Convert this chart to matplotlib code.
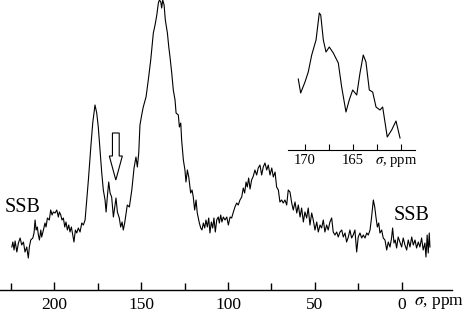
import matplotlib
matplotlib.use("Agg")
import matplotlib.pyplot as plt
from matplotlib.ticker import FixedLocator, NullFormatter

plt.rcParams['font.family'] = ['Liberation Serif', 'DejaVu Serif']
plt.rcParams['mathtext.fontset'] = 'stix'

# main 13C spectrum (ppm, intensity in arbitrary units)
ppm = [224.5, 223.9, 223.2, 222.6, 221.6, 220.7, 219.7, 218.8, 217.8, 216.9,
       215.9, 215.0, 214.4, 213.6, 212.4, 211.7, 211.1, 210.5, 209.8, 209.2,
       208.6, 207.8, 207.3, 206.3, 205.4, 204.8, 204.0, 202.9, 202.1, 201.3,
       200.6, 199.6, 198.6, 197.7, 197.1, 196.3, 195.6, 194.8, 194.0, 193.3,
       192.5, 191.7, 191.0, 190.2, 189.4, 188.7, 187.9, 187.1, 186.2, 185.2,
       184.2, 183.3, 182.3, 181.7, 181.0, 180.4, 179.0, 177.9, 176.6, 175.6,
       174.7, 173.7, 172.7, 171.8, 170.8, 170.2, 169.5, 168.7, 167.9, 167.0,
       166.0, 165.2, 164.5, 163.7, 162.6, 161.8, 161.0, 160.3, 159.5, 158.7,
       158.0, 156.8, 155.4, 154.1, 153.0, 152.2, 151.4, 150.7, 149.7, 148.8,
       147.2, 145.9, 144.5, 143.0, 142.0, 141.0, 140.1, 139.5, 138.7, 138.2,
       137.6, 136.8, 136.1, 134.9, 134.1, 133.4, 132.4, 131.5, 130.5, 129.9,
       128.6, 128.0, 127.2, 126.7, 125.7, 124.8, 124.2, 123.4, 122.6, 121.5,
       120.7, 120.0, 119.2, 118.4, 117.7, 116.5, 115.7, 115.0, 114.2, 113.4,
       112.7, 111.9, 111.1, 110.4, 109.6, 108.8, 108.1, 107.3, 106.5, 105.6,
       105.0, 104.2, 103.5, 102.7, 101.7, 100.7, 99.8, 98.8, 97.9, 96.9,
       96.0, 95.0, 94.1, 93.1, 92.1, 91.2, 90.4, 89.6, 88.9, 88.1,
       87.3, 86.4, 85.4, 84.5, 83.5, 82.6, 81.6, 80.6, 79.7, 78.7,
       77.7, 76.8, 75.8, 74.8, 73.9, 72.9, 72.0, 71.0, 70.1, 69.1,
       68.2, 67.2, 66.2, 65.3, 64.3, 63.3, 62.4, 61.4, 60.4, 59.5,
       58.5, 57.6, 56.6, 55.7, 54.7, 53.8, 52.8, 51.8, 50.9, 49.9,
       48.9, 48.0, 47.0, 46.1, 45.1, 44.2, 43.2, 42.3, 41.3, 40.3,
       39.4, 38.4, 37.4, 36.5, 35.5, 34.5, 33.6, 32.6, 31.7, 30.7,
       29.8, 28.8, 27.9, 26.9, 25.9, 25.0, 24.0, 23.0, 22.1, 21.1,
       20.1, 19.2, 18.2, 17.3, 16.3, 15.5, 14.8, 14.0, 13.2, 12.5,
       11.5, 10.6, 9.6, 8.6, 7.7, 6.7, 5.8, 5.2, 4.4, 3.7,
       2.9, 2.0, 1.0, 0.0, -0.9, -1.9, -2.9, -3.8, -4.8, -5.8,
       -6.7, -7.7, -8.6, -9.6, -10.5, -11.5, -12.4, -13.4, -14.0, -14.7,
       -15.3, -15.9, -16.3]
intensity = [43, 48, 40, 49, 38, 47, 52, 45, 48, 38,
             43, 32, 43, 50, 52, 57, 70, 60, 63, 55,
             50, 60, 53, 60, 67, 63, 72, 70, 80, 75,
             78, 77, 80, 73, 78, 75, 70, 72, 63, 68,
             60, 65, 58, 63, 55, 48, 60, 57, 62, 58,
             67, 65, 70, 83, 97, 110, 143, 167, 185, 177,
             163, 140, 117, 100, 90, 78, 93, 108, 97, 93,
             73, 83, 92, 78, 72, 63, 68, 60, 67, 77,
             85, 83, 100, 122, 133, 123, 137, 165, 175, 183,
             193, 210, 230, 257, 265, 275, 287, 290, 288, 282,
             290, 285, 270, 257, 243, 233, 217, 200, 190, 177,
             175, 163, 167, 150, 130, 120, 108, 120, 113, 97,
             100, 93, 80, 90, 77, 67, 62, 60, 67, 62,
             70, 63, 72, 57, 68, 62, 72, 58, 70, 73,
             67, 75, 68, 73, 70, 73, 65, 73, 72, 78,
             83, 87, 85, 90, 93, 102, 97, 108, 103, 112,
             101, 110, 114, 120, 115, 122, 125, 115, 123, 127,
             120, 125, 115, 122, 113, 118, 103, 100, 88, 90,
             87, 90, 85, 100, 98, 87, 80, 88, 77, 85,
             73, 82, 68, 78, 72, 82, 65, 77, 70, 60,
             68, 58, 65, 62, 70, 58, 65, 60, 68, 72,
             58, 55, 58, 53, 58, 60, 53, 57, 48, 53,
             60, 52, 55, 60, 38, 53, 57, 52, 55, 52,
             57, 55, 60, 73, 90, 83, 73, 63, 67, 57,
             60, 52, 50, 40, 48, 43, 52, 62, 47, 50,
             42, 53, 48, 43, 52, 45, 40, 50, 43, 53,
             45, 50, 42, 48, 43, 52, 40, 47, 33, 55,
             37, 57, 43]

# inset: carbonyl region
ins_ppm = [170.70, 170.45, 170.00, 169.66, 169.30, 168.85, 168.51, 168.36,
           168.09, 167.81, 167.47, 167.05, 166.53, 166.18, 165.73, 165.39,
           165.03, 164.61, 164.27, 163.93, 163.65, 163.30, 162.95, 162.60,
           162.19, 161.91, 161.43, 160.97, 160.52, 160.10]
ins_int = [71, 57, 68, 78, 95, 110, 137, 135, 110, 98, 103, 97, 87, 63, 38,
           50, 60, 55, 77, 95, 88, 60, 58, 43, 40, 43, 13, 20, 29, 12]

main_major = [200, 150, 100, 50, 0]
main_minor = [225, 175, 125, 75, 25]
ins_major = [170, 165]
ins_minor = [167.5, 162.5, 160]

fig = plt.figure(figsize=(4.73, 3.15), dpi=100)

ax = fig.add_axes([0.0, 25 / 315, 452 / 473, 290 / 315])
ax.plot(ppm, intensity, color='black', lw=0.8)
ax.set_xlim(231.3, -29.0)
ax.set_ylim(0, 290)
for s in ['top', 'left', 'right']:
    ax.spines[s].set_visible(False)
ax.spines['bottom'].set_linewidth(1.0)
ax.set_yticks([])
ax.xaxis.set_major_locator(FixedLocator(main_major))
ax.xaxis.set_minor_locator(FixedLocator(main_minor))
ax.xaxis.set_minor_formatter(NullFormatter())
ax.tick_params(axis='x', which='major', direction='in', length=6, width=1,
               labelsize=12.5, pad=5)
ax.tick_params(axis='x', which='minor', direction='in', length=5, width=1)
ax.text(-7, -5, r'$\sigma$, ppm', fontsize=12.5, ha='left', va='top')

ax.text(218.5, 83, 'SSB', fontsize=14.5, ha='center', va='center')
ax.text(-6, 74, 'SSB', fontsize=14.5, ha='center', va='center')

# hollow arrow marking the shoulder
ax.arrow(164.6, 157, 0, -47, width=3.9, head_width=7.5, head_length=24,
         length_includes_head=True, fc='white', ec='black', lw=0.8)

ins = fig.add_axes([288 / 473, 165 / 315, 127 / 473, 150 / 315])
ins.patch.set_alpha(0)
ins.plot(ins_ppm, ins_int, color='black', lw=0.8)
ins.set_xlim(171.77, 158.54)
ins.set_ylim(0, 150)
for s in ['top', 'left', 'right']:
    ins.spines[s].set_visible(False)
ins.spines['bottom'].set_linewidth(0.8)
ins.set_yticks([])
ins.xaxis.set_major_locator(FixedLocator(ins_major))
ins.xaxis.set_minor_locator(FixedLocator(ins_minor))
ins.xaxis.set_minor_formatter(NullFormatter())
ins.tick_params(axis='x', which='both', direction='in', length=4, width=0.8,
                labelsize=10.5, pad=3)
ins.text(162.7, -5, r'$\sigma$, ppm', fontsize=10.5, ha='left', va='top')

fig.savefig('out.png', dpi=100)
